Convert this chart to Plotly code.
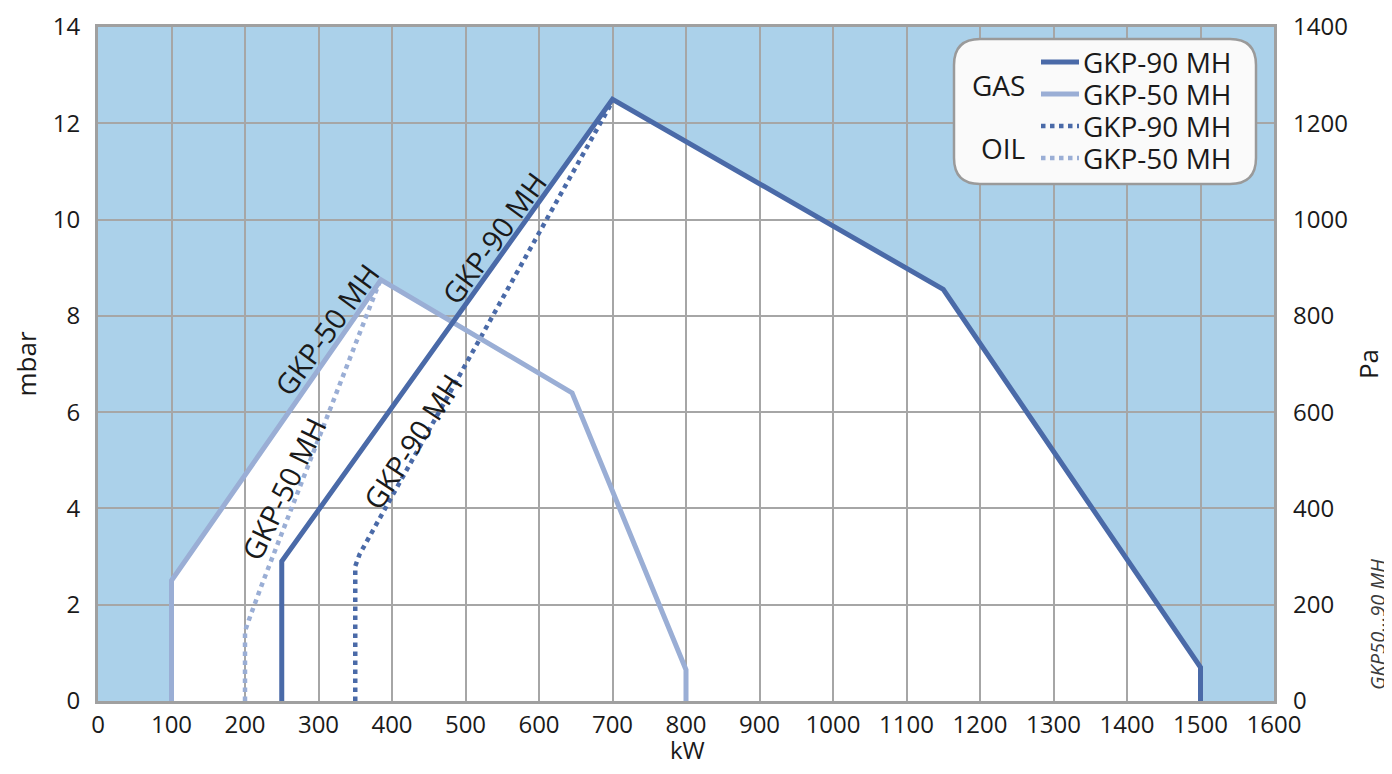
import plotly.graph_objects as go

# ---------------- data ----------------
gas90_x = [250, 250, 700, 1150, 1500, 1500]
gas90_y = [0, 2.9, 12.5, 8.55, 0.7, 0]
gas50_x = [100, 100, 385, 645, 800, 800]
gas50_y = [0, 2.5, 8.75, 6.4, 0.65, 0]
oil90_x = [350, 350, 356, 698]
oil90_y = [0, 2.8, 3.05, 12.4]
oil50_x = [200, 200, 208, 225, 383]
oil50_y = [0, 1.45, 1.8, 2.5, 8.7]

x_ticks = list(range(0, 1700, 100))
y_ticks = list(range(0, 16, 2))
pa_ticks = list(range(0, 1600, 200))

series_names = ["GKP-90 MH", "GKP-50 MH", "GKP-90 MH", "GKP-50 MH"]
group_names = ["GAS", "OIL"]

# in-plot labels: (text, x, y, angle)
lbl_text = ["GKP-50 MH", "GKP-90 MH", "GKP-50 MH", "GKP-90 MH"]
lbl_x = [311, 539, 252, 427]
lbl_y = [7.71, 9.62, 4.42, 5.4]
lbl_ang = [-54, -54, -64, -57]

# ---------------- style ----------------
DARK = "#4a6aa8"
LIGHT = "#9aaed5"
BG = "#abd1ea"
GRID = "#a6a6a6"
FONT = "Open Sans"
TXT = "#1a1a1a"

# page body has an 8px margin: figure coords = reference coords - 8
OFF = 8
W, H = 1384, 758
L, R = 98 - OFF, 1274 - OFF
T, B = 27 - OFF, 701 - OFF

fig = go.Figure()

def poly_path(xs, ys):
    return "M " + " L ".join(f"{x},{y}" for x, y in zip(xs, ys)) + " Z"

shapes = []
for xs, ys in [(gas50_x, gas50_y), (gas90_x, gas90_y)]:
    shapes.append(dict(type="path", path=poly_path(xs, ys), xref="x", yref="y",
                       fillcolor="white", line=dict(width=0), layer="below"))

fig.add_trace(go.Scatter(x=oil50_x, y=oil50_y, mode="lines", name=series_names[3],
                         line=dict(color=LIGHT, width=4.5, dash="4.5px,4.5px"), showlegend=False))
fig.add_trace(go.Scatter(x=oil90_x, y=oil90_y, mode="lines", name=series_names[2],
                         line=dict(color=DARK, width=4.5, dash="4.5px,4.5px"), showlegend=False))
fig.add_trace(go.Scatter(x=gas50_x, y=gas50_y, mode="lines", name=series_names[1],
                         line=dict(color=LIGHT, width=5), showlegend=False))
fig.add_trace(go.Scatter(x=gas90_x, y=gas90_y, mode="lines", name=series_names[0],
                         line=dict(color=DARK, width=5), showlegend=False))
# invisible trace to activate Pa axis
fig.add_trace(go.Scatter(x=gas90_x, y=[v * 100 for v in gas90_y], yaxis="y2", mode="lines",
                         line=dict(width=0), opacity=0, showlegend=False, hoverinfo="skip"))

annotations = []
for t, x, y, a in zip(lbl_text, lbl_x, lbl_y, lbl_ang):
    annotations.append(dict(text=t, x=x, y=y, xref="x", yref="y", showarrow=False,
                            textangle=a, font=dict(family=FONT, size=29, color=TXT)))

# ---------------- custom legend (reference pixel coords) ----------------
def px(p):
    return (p - OFF - L) / (R - L)
def py(p):
    return (B - (p - OFF)) / (B - T)

bx0, bx1, by0, by1, r = px(954), px(1256), py(184), py(39), 26
rx = r / (R - L)
ry = r / (B - T)
box = (f"M {bx0+rx},{by1} L {bx1-rx},{by1} Q {bx1},{by1} {bx1},{by1-ry} "
       f"L {bx1},{by0+ry} Q {bx1},{by0} {bx1-rx},{by0} L {bx0+rx},{by0} "
       f"Q {bx0},{by0} {bx0},{by0+ry} L {bx0},{by1-ry} Q {bx0},{by1} {bx0+rx},{by1} Z")
shapes.append(dict(type="path", path=box, xref="paper", yref="paper",
                   fillcolor="#fafafa", line=dict(color="#9a9a9a", width=2.5), layer="above"))

leg_rows = [62, 94, 126, 158]
leg_colors = [DARK, LIGHT, DARK, LIGHT]
leg_dash = ["solid", "solid", "4.5px,4.5px", "4.5px,4.5px"]
for ry_, c, d, name in zip(leg_rows, leg_colors, leg_dash, series_names):
    shapes.append(dict(type="line", xref="paper", yref="paper", x0=px(1041), x1=px(1079),
                       y0=py(ry_), y1=py(ry_),
                       line=dict(color=c, width=5 if d == "solid" else 4.5, dash=d),
                       layer="above"))
    annotations.append(dict(text=name, x=px(1081), y=py(ry_), xref="paper", yref="paper",
                            xanchor="left", yanchor="middle", showarrow=False, height=30,
                            font=dict(family=FONT, size=28, color=TXT)))
for g, gy in zip(group_names, [85, 148]):
    annotations.append(dict(text=g, x=px(1027), y=py(gy), xref="paper", yref="paper",
                            xanchor="right", yanchor="middle", showarrow=False, height=30,
                            font=dict(family=FONT, size=28, color=TXT)))

annotations.append(dict(text="<i>GKP50…90 MH</i>", x=px(1377), y=py(625), xref="paper", yref="paper",
                        textangle=-90, showarrow=False, xanchor="center", yanchor="middle",
                        font=dict(family=FONT, size=20, color="#3c3c3c")))
# x-axis title placed explicitly so it stays inside the page
annotations.append(dict(text="kW", x=px(687), y=py(750), xref="paper", yref="paper",
                        showarrow=False, xanchor="center", yanchor="middle",
                        font=dict(family=FONT, size=24, color=TXT)))

fig.update_layout(
    width=W, height=H,
    margin=dict(l=L, r=W - R, t=T, b=H - B, autoexpand=False),
    paper_bgcolor="white", plot_bgcolor=BG,
    font=dict(family=FONT, size=24, color=TXT),
    showlegend=False,
    shapes=shapes, annotations=annotations,
    xaxis=dict(range=[0, 1600], tickvals=x_ticks, showgrid=True, gridcolor=GRID, gridwidth=1.5,
               zeroline=False, showline=True, linecolor="#a0a0a0", linewidth=3, mirror=True,
               ticks="", ticklabelstandoff=0, automargin=False),
    yaxis=dict(range=[0, 14], tickvals=y_ticks, showgrid=True, gridcolor=GRID, gridwidth=1.5,
               zeroline=False, showline=True, linecolor="#a0a0a0", linewidth=3, mirror=True,
               ticks="", ticklabelstandoff=10, automargin=False,
               title=dict(text="mbar", font=dict(size=26), standoff=14)),
    yaxis2=dict(range=[0, 1400], tickvals=pa_ticks, overlaying="y", side="right", showgrid=False,
                zeroline=False, ticks="", ticklabelstandoff=18, automargin=False,
                title=dict(text="Pa", font=dict(size=26), standoff=12)),
)

fig.write_html("out.html")
